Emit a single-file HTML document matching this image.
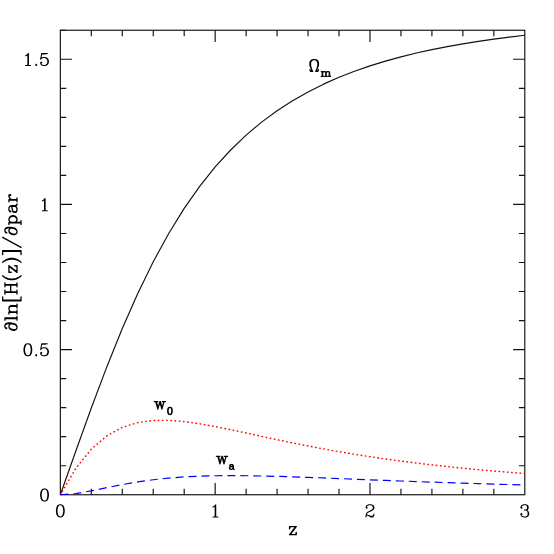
<!DOCTYPE html>
<html><head><meta charset="utf-8"><title>dln[H(z)]/dpar vs z</title><style>
html,body{margin:0;padding:0;background:#fff;}
svg{display:block;}
</style></head><body>
<svg width="554" height="554" viewBox="0 0 554 554" role="img" aria-label="Plot of d ln[H(z)] / d par versus z for Omega_m, w_0 and w_a">
<rect width="554" height="554" fill="#fff"/>
<g fill="none" stroke="#111" stroke-width="1.15">
<rect x="60.35" y="30.25" width="464.45" height="464.50"/>
<path d="M91.31,494.75 v-5.9 M91.31,30.25 v5.9 M122.28,494.75 v-5.9 M122.28,30.25 v5.9 M153.24,494.75 v-5.9 M153.24,30.25 v5.9 M184.20,494.75 v-5.9 M184.20,30.25 v5.9 M215.17,494.75 v-11.7 M215.17,30.25 v11.7 M246.13,494.75 v-5.9 M246.13,30.25 v5.9 M277.09,494.75 v-5.9 M277.09,30.25 v5.9 M308.06,494.75 v-5.9 M308.06,30.25 v5.9 M339.02,494.75 v-5.9 M339.02,30.25 v5.9 M369.98,494.75 v-11.7 M369.98,30.25 v11.7 M400.95,494.75 v-5.9 M400.95,30.25 v5.9 M431.91,494.75 v-5.9 M431.91,30.25 v5.9 M462.87,494.75 v-5.9 M462.87,30.25 v5.9 M493.84,494.75 v-5.9 M493.84,30.25 v5.9 M60.35,465.72 h5.9 M524.8,465.72 h-5.9 M60.35,436.69 h5.9 M524.8,436.69 h-5.9 M60.35,407.66 h5.9 M524.8,407.66 h-5.9 M60.35,378.62 h5.9 M524.8,378.62 h-5.9 M60.35,349.59 h11.7 M524.8,349.59 h-11.7 M60.35,320.56 h5.9 M524.8,320.56 h-5.9 M60.35,291.53 h5.9 M524.8,291.53 h-5.9 M60.35,262.50 h5.9 M524.8,262.50 h-5.9 M60.35,233.47 h5.9 M524.8,233.47 h-5.9 M60.35,204.44 h11.7 M524.8,204.44 h-11.7 M60.35,175.41 h5.9 M524.8,175.41 h-5.9 M60.35,146.37 h5.9 M524.8,146.37 h-5.9 M60.35,117.34 h5.9 M524.8,117.34 h-5.9 M60.35,88.31 h5.9 M524.8,88.31 h-5.9 M60.35,59.28 h11.7 M524.8,59.28 h-11.7 M60.35,30.25 h5.9"/>
<path d="M60.35,494.75 L75.83,451.04 L91.31,408.02 L106.80,366.91 L122.28,328.55 L137.76,293.44 L153.24,261.75 L168.72,233.47 L184.20,208.42 L199.68,186.35 L215.17,166.98 L230.65,150.00 L246.13,135.14 L261.61,122.12 L277.09,110.72 L292.57,100.71 L308.06,91.91 L323.54,84.15 L339.02,77.31 L354.50,71.25 L369.98,65.88 L385.46,61.10 L400.95,56.84 L416.43,53.04 L431.91,49.63 L447.39,46.57 L462.87,43.82 L478.35,41.33 L493.84,39.09 L509.32,37.06 L524.80,35.21" stroke-linejoin="round"/>
</g>
<path d="M60.35,494.75 L75.83,468.32 L91.31,449.14 L106.80,435.91 L122.28,427.41 L137.76,422.58 L153.24,420.47 L168.72,420.34 L184.20,421.61 L199.68,423.80 L215.17,426.59 L230.65,429.73 L246.13,433.03 L261.61,436.38 L277.09,439.69 L292.57,442.91 L308.06,445.98 L323.54,448.91 L339.02,451.67 L354.50,454.27 L369.98,456.69 L385.46,458.96 L400.95,461.08 L416.43,463.05 L431.91,464.89 L447.39,466.59 L462.87,468.18 L478.35,469.66 L493.84,471.04 L509.32,472.32 L524.80,473.51" fill="none" stroke="#ff0000" stroke-width="1.4" stroke-dasharray="1.7,2.508" stroke-dashoffset="0.85"/>
<path d="M60.35,494.75 L75.83,493.53 L91.31,490.83 L106.80,487.66 L122.28,484.59 L137.76,481.91 L153.24,479.74 L168.72,478.08 L184.20,476.91 L199.68,476.16 L215.17,475.76 L230.65,475.63 L246.13,475.73 L261.61,475.99 L277.09,476.38 L292.57,476.85 L308.06,477.39 L323.54,477.97 L339.02,478.57 L354.50,479.18 L369.98,479.79 L385.46,480.39 L400.95,480.98 L416.43,481.56 L431.91,482.11 L447.39,482.65 L462.87,483.16 L478.35,483.65 L493.84,484.13 L509.32,484.57 L524.80,485.00" fill="none" stroke="#0000ff" stroke-width="1.2" stroke-dasharray="8.0,4.96"/>
<g fill="none" stroke="#000" stroke-width="1.3" stroke-linecap="round" stroke-linejoin="round">
<path d="M295.68,526.60 L289.56,534.65 M296.24,526.60 L290.12,534.65 M290.12,526.60 L289.56,528.90 L289.56,526.60 L296.24,526.60 M289.56,534.65 L296.24,534.65 L296.24,532.35 L295.68,534.65 M309.95,69.72 L310.48,71.40 L312.60,71.40 L311.54,69.16 L310.48,66.92 L309.95,65.24 L309.95,63.00 L310.48,61.32 L311.54,60.20 L313.13,59.64 L315.25,59.64 L316.84,60.20 L317.90,61.32 L318.43,63.00 L318.43,65.24 L317.90,66.92 L316.84,69.16 L315.78,71.40 L317.90,71.40 L318.43,69.72 M311.54,69.16 L311.01,67.48 L310.48,65.24 L310.48,63.00 L311.01,61.32 L312.07,60.20 L313.13,59.64 M315.25,59.64 L316.31,60.20 L317.37,61.32 L317.90,63.00 L317.90,65.24 L317.37,67.48 L316.84,69.16 M310.48,70.84 L312.07,70.84 M316.31,70.84 L317.90,70.84 M322.26,71.64 L322.26,76.40 M322.58,71.64 L322.58,76.40 M322.58,72.66 L323.22,71.98 L324.18,71.64 L324.82,71.64 L325.78,71.98 L326.10,72.66 L326.10,76.40 M324.82,71.64 L325.46,71.98 L325.78,72.66 L325.78,76.40 M326.10,72.66 L326.74,71.98 L327.70,71.64 L328.34,71.64 L329.30,71.98 L329.62,72.66 L329.62,76.40 M328.34,71.64 L328.98,71.98 L329.30,72.66 L329.30,76.40 M321.30,71.64 L322.58,71.64 M321.30,76.40 L323.54,76.40 M324.82,76.40 L327.06,76.40 M328.34,76.40 L330.58,76.40 M155.82,401.58 L157.85,409.00 M156.33,401.58 L157.85,407.41 M159.88,401.58 L157.85,409.00 M159.88,401.58 L161.91,409.00 M160.38,401.58 L161.91,407.41 M163.93,401.58 L161.91,409.00 M154.30,401.58 L157.85,401.58 M162.41,401.58 L165.45,401.58 M169.62,407.36 L168.66,407.70 L168.02,408.72 L167.70,410.42 L167.70,411.44 L168.02,413.14 L168.66,414.16 L169.62,414.50 L170.26,414.50 L171.22,414.16 L171.86,413.14 L172.18,411.44 L172.18,410.42 L171.86,408.72 L171.22,407.70 L170.26,407.36 L169.62,407.36 M169.62,407.36 L168.98,407.70 L168.66,408.04 L168.34,408.72 L168.02,410.42 L168.02,411.44 L168.34,413.14 L168.66,413.82 L168.98,414.16 L169.62,414.50 M170.26,414.50 L170.90,414.16 L171.22,413.82 L171.54,413.14 L171.86,411.44 L171.86,410.42 L171.54,408.72 L171.22,408.04 L170.90,407.70 L170.26,407.36 M217.92,456.34 L219.95,463.90 M218.43,456.34 L219.95,462.28 M221.98,456.34 L219.95,463.90 M221.98,456.34 L224.00,463.90 M222.48,456.34 L224.00,462.28 M226.03,456.34 L224.00,463.90 M216.40,456.34 L219.95,456.34 M224.51,456.34 L227.55,456.34 M230.14,465.22 L230.14,465.56 L229.82,465.56 L229.82,465.22 L230.14,464.88 L230.78,464.54 L232.06,464.54 L232.70,464.88 L233.02,465.22 L233.34,465.90 L233.34,468.28 L233.66,468.96 L233.98,469.30 M233.02,465.22 L233.02,468.28 L233.34,468.96 L233.98,469.30 L234.30,469.30 M233.02,465.90 L232.70,466.24 L230.78,466.58 L229.82,466.92 L229.50,467.60 L229.50,468.28 L229.82,468.96 L230.78,469.30 L231.74,469.30 L232.38,468.96 L233.02,468.28 M230.78,466.58 L230.14,466.92 L229.82,467.60 L229.82,468.28 L230.14,468.96 L230.78,469.30"/>
<path d="M59.79,504.82 L58.13,505.40 L57.01,507.12 L56.46,510.00 L56.46,511.72 L57.01,514.60 L58.13,516.32 L59.79,516.90 L60.91,516.90 L62.57,516.32 L63.69,514.60 L64.24,511.72 L64.24,510.00 L63.69,507.12 L62.57,505.40 L60.91,504.82 L59.79,504.82 M59.79,504.82 L58.68,505.40 L58.13,505.97 L57.57,507.12 L57.01,510.00 L57.01,511.72 L57.57,514.60 L58.13,515.75 L58.68,516.32 L59.79,516.90 M60.91,516.90 L62.02,516.32 L62.57,515.75 L63.13,514.60 L63.69,511.72 L63.69,510.00 L63.13,507.12 L62.57,505.97 L62.02,505.40 L60.91,504.82 M212.94,507.12 L214.05,506.55 L215.72,504.82 L215.72,516.90 M215.17,505.40 L215.17,516.90 M212.94,516.90 L217.95,516.90 M366.65,507.12 L367.20,507.70 L366.65,508.27 L366.09,507.70 L366.09,507.12 L366.65,505.97 L367.20,505.40 L368.87,504.82 L371.10,504.82 L372.76,505.40 L373.32,505.97 L373.88,507.12 L373.88,508.27 L373.32,509.42 L371.65,510.57 L368.87,511.72 L367.76,512.30 L366.65,513.45 L366.09,515.17 L366.09,516.90 M371.10,504.82 L372.21,505.40 L372.76,505.97 L373.32,507.12 L373.32,508.27 L372.76,509.42 L371.10,510.57 L368.87,511.72 M366.09,515.75 L366.65,515.17 L367.76,515.17 L370.54,516.32 L372.21,516.32 L373.32,515.75 L373.88,515.17 M367.76,515.17 L370.54,516.90 L372.76,516.90 L373.32,516.32 L373.88,515.17 L373.88,514.02 M521.46,507.12 L522.02,507.70 L521.46,508.27 L520.91,507.70 L520.91,507.12 L521.46,505.97 L522.02,505.40 L523.69,504.82 L525.91,504.82 L527.58,505.40 L528.14,506.55 L528.14,508.27 L527.58,509.42 L525.91,510.00 L524.24,510.00 M525.91,504.82 L527.02,505.40 L527.58,506.55 L527.58,508.27 L527.02,509.42 L525.91,510.00 M525.91,510.00 L527.02,510.57 L528.14,511.72 L528.69,512.88 L528.69,514.60 L528.14,515.75 L527.58,516.32 L525.91,516.90 L523.69,516.90 L522.02,516.32 L521.46,515.75 L520.91,514.60 L520.91,514.02 L521.46,513.45 L522.02,514.02 L521.46,514.60 M527.58,511.15 L528.14,512.88 L528.14,514.60 L527.58,515.75 L527.02,516.32 L525.91,516.90 M43.98,488.91 L42.32,489.49 L41.20,491.21 L40.65,494.09 L40.65,495.81 L41.20,498.69 L42.32,500.41 L43.98,500.99 L45.10,500.99 L46.76,500.41 L47.88,498.69 L48.43,495.81 L48.43,494.09 L47.88,491.21 L46.76,489.49 L45.10,488.91 L43.98,488.91 M43.98,488.91 L42.87,489.49 L42.32,490.06 L41.76,491.21 L41.20,494.09 L41.20,495.81 L41.76,498.69 L42.32,499.84 L42.87,500.41 L43.98,500.99 M45.10,500.99 L46.21,500.41 L46.76,499.84 L47.32,498.69 L47.88,495.81 L47.88,494.09 L47.32,491.21 L46.76,490.06 L46.21,489.49 L45.10,488.91 M27.30,343.76 L25.64,344.33 L24.52,346.06 L23.97,348.93 L23.97,350.66 L24.52,353.53 L25.64,355.26 L27.30,355.83 L28.42,355.83 L30.08,355.26 L31.20,353.53 L31.75,350.66 L31.75,348.93 L31.20,346.06 L30.08,344.33 L28.42,343.76 L27.30,343.76 M27.30,343.76 L26.19,344.33 L25.64,344.91 L25.08,346.06 L24.52,348.93 L24.52,350.66 L25.08,353.53 L25.64,354.68 L26.19,355.26 L27.30,355.83 M28.42,355.83 L29.53,355.26 L30.08,354.68 L30.64,353.53 L31.20,350.66 L31.20,348.93 L30.64,346.06 L30.08,344.91 L29.53,344.33 L28.42,343.76 M36.20,354.68 L35.64,355.26 L36.20,355.83 L36.76,355.26 L36.20,354.68 M41.76,343.76 L40.65,349.51 M40.65,349.51 L41.76,348.36 L43.43,347.78 L45.10,347.78 L46.76,348.36 L47.88,349.51 L48.43,351.23 L48.43,352.38 L47.88,354.11 L46.76,355.26 L45.10,355.83 L43.43,355.83 L41.76,355.26 L41.20,354.68 L40.65,353.53 L40.65,352.96 L41.20,352.38 L41.76,352.96 L41.20,353.53 M45.10,347.78 L46.21,348.36 L47.32,349.51 L47.88,351.23 L47.88,352.38 L47.32,354.11 L46.21,355.26 L45.10,355.83 M41.76,343.76 L47.32,343.76 M41.76,344.33 L44.54,344.33 L47.32,343.76 M42.32,200.90 L43.43,200.32 L45.10,198.60 L45.10,210.67 M44.54,199.17 L44.54,210.67 M42.32,210.67 L47.32,210.67 M25.64,55.74 L26.75,55.17 L28.42,53.44 L28.42,65.52 M27.86,54.02 L27.86,65.52 M25.64,65.52 L30.64,65.52 M36.20,64.37 L35.64,64.94 L36.20,65.52 L36.76,64.94 L36.20,64.37 M41.76,53.44 L40.65,59.19 M40.65,59.19 L41.76,58.04 L43.43,57.47 L45.10,57.47 L46.76,58.04 L47.88,59.19 L48.43,60.92 L48.43,62.07 L47.88,63.79 L46.76,64.94 L45.10,65.52 L43.43,65.52 L41.76,64.94 L41.20,64.37 L40.65,63.22 L40.65,62.64 L41.20,62.07 L41.76,62.64 L41.20,63.22 M45.10,57.47 L46.21,58.04 L47.32,59.19 L47.88,60.92 L47.88,62.07 L47.32,63.79 L46.21,64.94 L45.10,65.52 M41.76,53.44 L47.32,53.44 M41.76,54.02 L44.54,54.02 L47.32,53.44" stroke-width="1.05"/>
<path transform="translate(17.0,262.4) rotate(-90)" d="M-61.16,-5.17 L-61.72,-6.90 L-62.27,-7.47 L-63.38,-8.05 L-64.50,-8.05 L-66.16,-7.47 L-67.28,-5.75 L-67.83,-4.02 L-67.83,-2.30 L-67.28,-1.15 L-66.72,-0.57 L-65.61,0.00 L-64.50,0.00 L-62.83,-0.57 L-61.72,-1.72 L-61.16,-3.45 L-60.60,-6.32 L-60.60,-9.20 L-61.16,-10.92 L-61.72,-11.50 L-62.83,-12.07 L-64.50,-12.07 L-65.61,-11.50 L-66.16,-10.92 L-66.16,-10.35 L-65.61,-10.35 L-65.61,-10.92 M-64.50,-8.05 L-65.61,-7.47 L-66.72,-5.75 L-67.28,-4.02 L-67.28,-1.72 L-66.72,-0.57 M-64.50,0.00 L-63.38,-0.57 L-62.27,-1.72 L-61.72,-3.45 L-61.16,-6.32 L-61.16,-9.20 L-61.72,-10.92 L-62.83,-12.07 M-56.16,-12.07 L-56.16,0.00 M-55.60,-12.07 L-55.60,0.00 M-57.82,-12.07 L-55.60,-12.07 M-57.82,0.00 L-53.93,0.00 M-50.04,-8.05 L-50.04,0.00 M-49.48,-8.05 L-49.48,0.00 M-49.48,-6.32 L-48.37,-7.47 L-46.70,-8.05 L-45.59,-8.05 L-43.92,-7.47 L-43.37,-6.32 L-43.37,0.00 M-45.59,-8.05 L-44.48,-7.47 L-43.92,-6.32 L-43.92,0.00 M-51.71,-8.05 L-49.48,-8.05 M-51.71,0.00 L-47.82,0.00 M-45.59,0.00 L-41.70,0.00 M-38.36,-14.37 L-38.36,4.02 M-37.81,-14.37 L-37.81,4.02 M-38.36,-14.37 L-34.47,-14.37 M-38.36,4.02 L-34.47,4.02 M-30.02,-12.07 L-30.02,0.00 M-29.47,-12.07 L-29.47,0.00 M-22.80,-12.07 L-22.80,0.00 M-22.24,-12.07 L-22.24,0.00 M-31.69,-12.07 L-27.80,-12.07 M-24.46,-12.07 L-20.57,-12.07 M-29.47,-6.32 L-22.80,-6.32 M-31.69,0.00 L-27.80,0.00 M-24.46,0.00 L-20.57,0.00 M-13.34,-14.37 L-14.46,-13.22 L-15.57,-11.50 L-16.68,-9.20 L-17.24,-6.32 L-17.24,-4.02 L-16.68,-1.15 L-15.57,1.15 L-14.46,2.88 L-13.34,4.02 M-14.46,-13.22 L-15.57,-10.92 L-16.12,-9.20 L-16.68,-6.32 L-16.68,-4.02 L-16.12,-1.15 L-15.57,0.57 L-14.46,2.88 M-3.89,-8.05 L-10.01,0.00 M-3.34,-8.05 L-9.45,0.00 M-9.45,-8.05 L-10.01,-5.75 L-10.01,-8.05 L-3.34,-8.05 M-10.01,0.00 L-3.34,0.00 L-3.34,-2.30 L-3.89,0.00 M0.00,-14.37 L1.11,-13.22 L2.22,-11.50 L3.34,-9.20 L3.89,-6.32 L3.89,-4.02 L3.34,-1.15 L2.22,1.15 L1.11,2.88 L0.00,4.02 M1.11,-13.22 L2.22,-10.92 L2.78,-9.20 L3.34,-6.32 L3.34,-4.02 L2.78,-1.15 L2.22,0.57 L1.11,2.88 M11.12,-14.37 L11.12,4.02 M11.68,-14.37 L11.68,4.02 M7.78,-14.37 L11.68,-14.37 M7.78,4.02 L11.68,4.02 M25.02,-14.37 L15.01,4.02 M34.47,-5.17 L33.92,-6.90 L33.36,-7.47 L32.25,-8.05 L31.14,-8.05 L29.47,-7.47 L28.36,-5.75 L27.80,-4.02 L27.80,-2.30 L28.36,-1.15 L28.91,-0.57 L30.02,0.00 L31.14,0.00 L32.80,-0.57 L33.92,-1.72 L34.47,-3.45 L35.03,-6.32 L35.03,-9.20 L34.47,-10.92 L33.92,-11.50 L32.80,-12.07 L31.14,-12.07 L30.02,-11.50 L29.47,-10.92 L29.47,-10.35 L30.02,-10.35 L30.02,-10.92 M31.14,-8.05 L30.02,-7.47 L28.91,-5.75 L28.36,-4.02 L28.36,-1.72 L28.91,-0.57 M31.14,0.00 L32.25,-0.57 L33.36,-1.72 L33.92,-3.45 L34.47,-6.32 L34.47,-9.20 L33.92,-10.92 L32.80,-12.07 M39.48,-8.05 L39.48,4.02 M40.03,-8.05 L40.03,4.02 M40.03,-6.32 L41.14,-7.47 L42.26,-8.05 L43.37,-8.05 L45.04,-7.47 L46.15,-6.32 L46.70,-4.60 L46.70,-3.45 L46.15,-1.72 L45.04,-0.57 L43.37,0.00 L42.26,0.00 L41.14,-0.57 L40.03,-1.72 M43.37,-8.05 L44.48,-7.47 L45.59,-6.32 L46.15,-4.60 L46.15,-3.45 L45.59,-1.72 L44.48,-0.57 L43.37,0.00 M37.81,-8.05 L40.03,-8.05 M37.81,4.02 L41.70,4.02 M51.15,-6.90 L51.15,-6.32 L50.60,-6.32 L50.60,-6.90 L51.15,-7.47 L52.26,-8.05 L54.49,-8.05 L55.60,-7.47 L56.16,-6.90 L56.71,-5.75 L56.71,-1.72 L57.27,-0.57 L57.82,0.00 M56.16,-6.90 L56.16,-1.72 L56.71,-0.57 L57.82,0.00 L58.38,0.00 M56.16,-5.75 L55.60,-5.17 L52.26,-4.60 L50.60,-4.02 L50.04,-2.88 L50.04,-1.72 L50.60,-0.57 L52.26,0.00 L53.93,0.00 L55.04,-0.57 L56.16,-1.72 M52.26,-4.60 L51.15,-4.02 L50.60,-2.88 L50.60,-1.72 L51.15,-0.57 L52.26,0.00 M62.27,-8.05 L62.27,0.00 M62.83,-8.05 L62.83,0.00 M62.83,-4.60 L63.38,-6.32 L64.50,-7.47 L65.61,-8.05 L67.28,-8.05 L67.83,-7.47 L67.83,-6.90 L67.28,-6.32 L66.72,-6.90 L67.28,-7.47 M60.60,-8.05 L62.83,-8.05 M60.60,0.00 L64.50,0.00"/>
</g>
</svg>
</body></html>
